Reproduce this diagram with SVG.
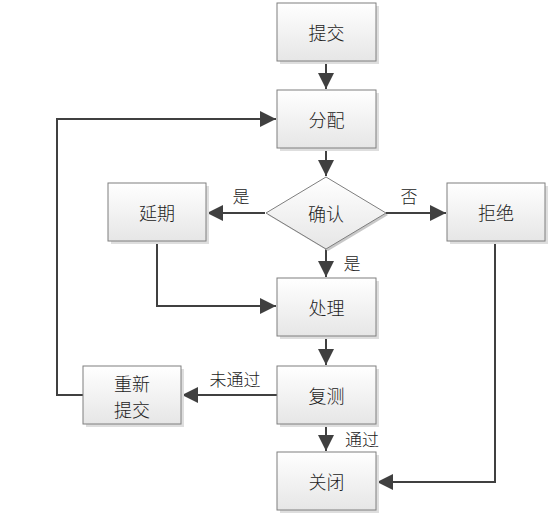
<svg xmlns="http://www.w3.org/2000/svg" width="551" height="517" viewBox="0 0 551 517">
<style>
.box{fill:url(#g);stroke:#7f7f7f;stroke-width:1}
.sh{fill:#dedede}
.t{font-family:"Noto Sans CJK SC","Liberation Sans",sans-serif;font-size:18px;font-weight:300;fill:#222;text-anchor:middle;dominant-baseline:central}
.l{font-family:"Noto Sans CJK SC","Liberation Sans",sans-serif;font-size:17px;font-weight:300;fill:#222;text-anchor:middle;dominant-baseline:central}
.c{fill:none;stroke:#404040;stroke-width:2}
</style>
<defs>
<linearGradient id="g" x1="0" y1="0" x2="0" y2="1">
<stop offset="0" stop-color="#ffffff"/>
<stop offset="1" stop-color="#e6e6e6"/>
</linearGradient>
<marker id="ab" viewBox="0 0 10 10" refX="10" refY="5" markerWidth="16" markerHeight="16" markerUnits="userSpaceOnUse" orient="auto">
<path d="M0,0 L10,5 L0,10 z" fill="#404040"/>
</marker>
</defs>
<g id="connectors">
<path class="c" d="M326,61 V89" marker-end="url(#ab)"/>
<path class="c" d="M326,148 V176" marker-end="url(#ab)"/>
<path class="c" d="M265,213 H207" marker-end="url(#ab)"/>
<path class="c" d="M386,213 H446" marker-end="url(#ab)"/>
<path class="c" d="M326,249 V277" marker-end="url(#ab)"/>
<path class="c" d="M157,241 V306 H276" marker-end="url(#ab)"/>
<path class="c" d="M326,336 V365" marker-end="url(#ab)"/>
<path class="c" d="M277,395 H182" marker-end="url(#ab)"/>
<path class="c" d="M83,395 H57 V119 H276" marker-end="url(#ab)"/>
<path class="c" d="M326,424 V451" marker-end="url(#ab)"/>
<path class="c" d="M495,241 V482 H377" marker-end="url(#ab)"/>
<text class="l" x="241" y="195">是</text>
<text class="l" x="409" y="195">否</text>
<text class="l" x="352" y="262">是</text>
<text class="l" x="235" y="378">未通过</text>
<text class="l" x="362" y="438">通过</text>
</g>
<g id="n1"><rect class="sh" x="280" y="6" width="99" height="58"/><rect class="box" x="277" y="3" width="99" height="58"/><text class="t" x="326.5" y="32">提交</text></g>
<g id="n2"><rect class="sh" x="280" y="93" width="99" height="58"/><rect class="box" x="277" y="90" width="99" height="58"/><text class="t" x="326.5" y="119">分配</text></g>
<g id="n3"><polygon points="326,177 386,213 326,249 266,213" fill="#c8c8c8" transform="translate(2,2)"/><polygon class="box" points="326,177 386,213 326,249 266,213"/><text class="t" x="326" y="213">确认</text></g>
<g id="n4"><rect class="sh" x="111" y="186" width="98" height="58"/><rect class="box" x="108" y="183" width="98" height="58"/><text class="t" x="157" y="212">延期</text></g>
<g id="n5"><rect class="sh" x="450" y="186" width="98" height="58"/><rect class="box" x="447" y="183" width="98" height="58"/><text class="t" x="496" y="212">拒绝</text></g>
<g id="n6"><rect class="sh" x="280" y="281" width="99" height="58"/><rect class="box" x="277" y="278" width="99" height="58"/><text class="t" x="326.5" y="307">处理</text></g>
<g id="n7"><rect class="sh" x="280" y="369" width="99" height="58"/><rect class="box" x="277" y="366" width="99" height="58"/><text class="t" x="326.5" y="395">复测</text></g>
<g id="n8"><rect class="sh" x="86" y="369" width="98" height="58"/><rect class="box" x="83" y="366" width="98" height="58"/><text class="t" x="132" y="383">重新</text><text class="t" x="132" y="409">提交</text></g>
<g id="n9"><rect class="sh" x="280" y="455" width="99" height="58"/><rect class="box" x="277" y="452" width="99" height="58"/><text class="t" x="326.5" y="481">关闭</text></g>
</svg>
